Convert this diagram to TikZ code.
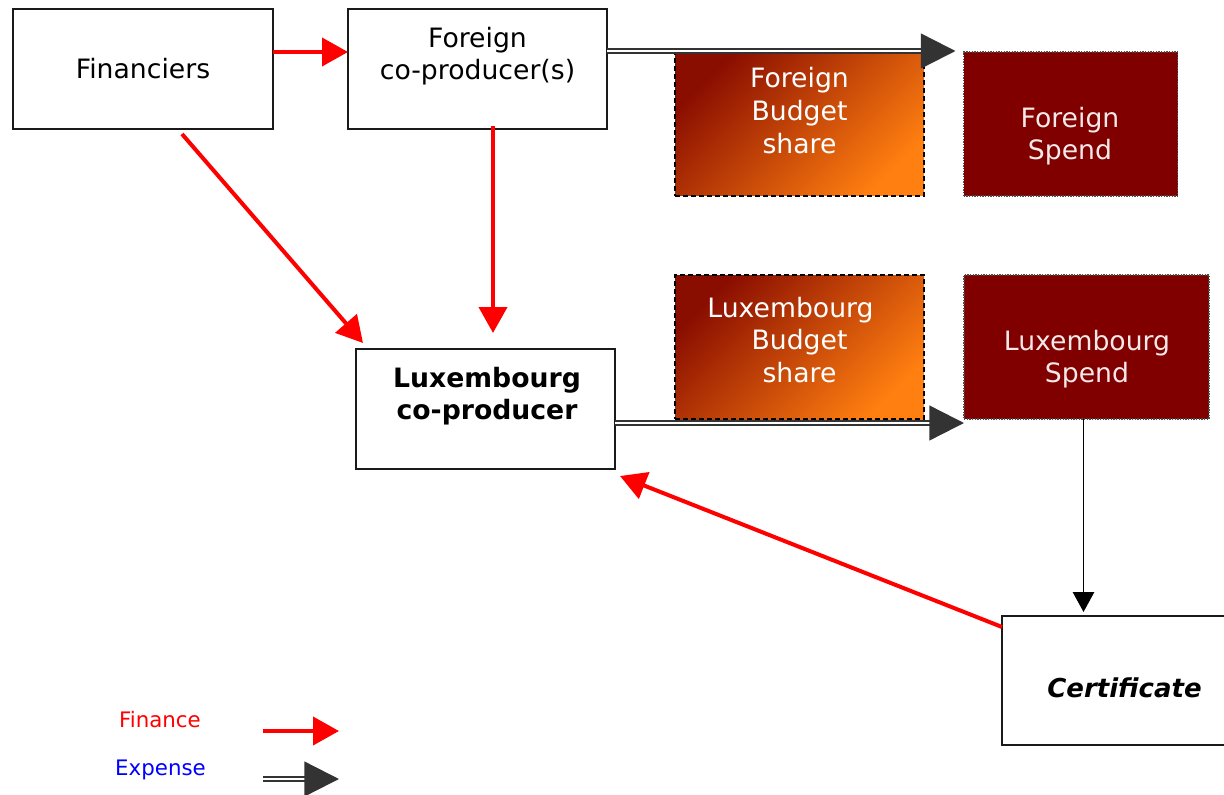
\documentclass[tikz,border=0pt]{standalone}
\usepackage{fontspec}
\setmainfont{DejaVu Sans}
\usetikzlibrary{arrows.meta,calc}
\definecolor{boxline}{HTML}{1A1A1A}
\definecolor{maroonfill}{HTML}{800000}
\definecolor{gradA}{HTML}{8A0E00}
\definecolor{gradB}{HTML}{FF7F10}
\definecolor{expgray}{HTML}{333333}
\definecolor{finred}{HTML}{FF0000}
\definecolor{finblue}{HTML}{0000FF}
\definecolor{spendtext}{HTML}{F4E8E8}
\begin{document}
\begin{tikzpicture}[x=0.75pt,y=-0.75pt,
  every node/.style={inner sep=0pt, outer sep=0pt},
  mainfont/.style={font=\fontsize{20}{24.5}\selectfont, align=center},
  legendfont/.style={font=\fontsize{16}{19}\selectfont},
  plainbox/.style={draw=boxline, line width=1.6pt, fill=white},
  budgetbox/.style={draw=black, line width=1.4pt, dash pattern=on 4pt off 2pt,
    top color=gradA, bottom color=gradB, shading angle=45},
  spendbox/.style={fill=maroonfill, draw=gray!60!black, line width=1pt,
    dash pattern=on 1pt off 1pt},
  finarrow/.style={draw=finred, line width=3pt, -{Triangle[length=19.5pt,width=21pt]}},
  exparrow/.style={draw=expgray, line width=1.8pt, double=white, double distance=1.6pt,
    -{Triangle[length=26pt,width=26pt]}},
  blkarrow/.style={draw=black, line width=1.4pt, -{Triangle[length=15pt,width=16pt]}}
]
\useasboundingbox (0,0) rectangle (1224,795);
\clip (0,0) rectangle (1224,795);
\fill[white] (0,0) rectangle (1224,795);

% boxes
\node[plainbox, mainfont, minimum width=195pt, minimum height=90pt] (fin) at (143,69) {Financiers};
\node[plainbox, minimum width=194.25pt, minimum height=90pt] (fcp) at (477.5,69) {};
\node[mainfont] (fcpt) at (477.5,56) {Foreign\\co-producer(s)};

\node[budgetbox, minimum width=186.75pt, minimum height=108pt] (fbs) at (799.5,124) {};
\node[mainfont, text=white] (fbst) at (799.5,110.5) {Foreign\\Budget\\share};

\node[spendbox, minimum width=160.5pt, minimum height=108pt] (fsp) at (1070.5,124) {};
\node[mainfont, text=spendtext] (fspt) at (1070,136) {Foreign\\Spend};

\node[budgetbox, minimum width=186.75pt, minimum height=108pt] (lbs) at (799.5,347) {};
\node[mainfont, text=white] (lbst) at (799.5,340) {Luxembourg\makebox[13.5pt]{}\\Budget\\share};

\node[spendbox, minimum width=183.75pt, minimum height=108pt] (lsp) at (1086.5,347) {};
\node[mainfont, text=spendtext] (lspt) at (1087,359) {Luxembourg\\Spend};

\node[plainbox, minimum width=194.25pt, minimum height=90pt] (lcp) at (485.5,409) {};
\node[mainfont, font=\fontsize{20}{24.5}\selectfont\bfseries] (lcpt) at (487,396) {Luxembourg\\co-producer};

\node[plainbox, minimum width=181.5pt, minimum height=96.75pt] (cert) at (1123,680.5) {};
\node[mainfont, font=\fontsize{19.5}{24}\selectfont\bfseries\itshape] (certt) at (1124.5,687.5) {Certificate};

% connectors
\draw[finarrow] ($(fin.east)+(0,-17)$) -- ($(fcp.west)+(0,-17)$);
\draw[finarrow] ($(fin.south)+(39,5)$) -- ($(lcp.north west)+(7,-6)$);
\draw[finarrow] ($(fcp.south)+(15.5,-3)$) -- ($(lcp.north)+(7.5,-16)$);
\draw[finarrow] ($(cert.north west)+(0,11)$) -- ($(lcp.south east)+(5,7)$);
\draw[exparrow] ($(fcp.east)+(0,-18)$) -- ($(fsp.north west)+(-8,-1)$);
\draw[exparrow] ($(lcp.east)+(0,14)$) -- ($(lsp.south west)+(0,4)$);
\draw[blkarrow] ($(lsp.south)+(-3,0)$) -- ($(cert.north)+(-39.5,-4)$);

% legend
\node[legendfont, text=finred] (legfin) at (160,719.5) {Finance};
\node[legendfont, text=finblue] (legexp) at (160.5,770) {Expense};
\coordinate (lfa) at (263,731);
\coordinate (lfb) at (339,731);
\coordinate (lea) at (263,779);
\coordinate (leb) at (339,779);
\draw[finarrow] (lfa) -- (lfb);
\draw[exparrow] (lea) -- (leb);
\end{tikzpicture}
\end{document}
